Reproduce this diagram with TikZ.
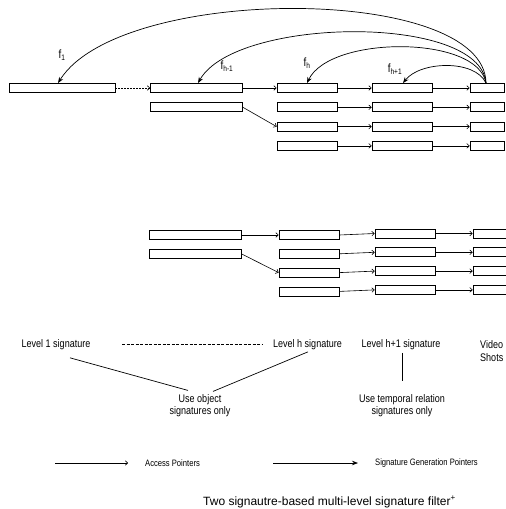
\documentclass[tikz,border=0pt]{standalone}
\usepackage{fontspec}
\setmainfont{Liberation Sans}[FakeStretch=0.82]
\newfontfamily\widesans{Liberation Sans}
\usetikzlibrary{positioning, arrows.meta}

\begin{document}
\begin{tikzpicture}[
    x=1pt, y=-1pt,
    font=\fontsize{11}{12.5}\selectfont,
    % Styles
    sig_box/.style={draw, rectangle, line width=0.8pt, minimum height=9pt, inner sep=0pt},
    long_box/.style={sig_box, minimum width=92pt},
    mid_box/.style={sig_box, minimum width=60pt},
    shot_box/.style={sig_box, minimum width=34pt},
    access_ptr/.style={line width=0.6pt, -{To[length=3pt,width=5pt]}},
    gen_ptr/.style={line width=0.7pt, -{Stealth[length=6pt,width=4.5pt]}},
    f_label/.style={font=\fontsize{12}{12}\selectfont, inner sep=0pt},
    level_text/.style={inner sep=0pt, align=center},
    note_line/.style={line width=0.7pt},
    legend_text/.style={font=\fontsize{9.3}{11}\selectfont, inner sep=0pt, anchor=west}
]
\useasboundingbox (0,0) rectangle (506,509);
\clip (0,0) rectangle (506,509);

% 1. Upper filter: signature levels
\node[sig_box, minimum width=106pt] (sig1) at (62,88) {};
\node[long_box] (sigA1) at (196.5,88) {};
\node[long_box, below=9.5pt of sigA1] (sigA2) {};
\node[mid_box] (sigB1) at (307,88) {};
\node[mid_box] (sigC1) at (402,88) {};
\node[shot_box] (shot1) at (487,88) {};
\foreach \i [count=\j from 2] in {1,2,3} {
    \node[mid_box, below=9.5pt of sigB\i] (sigB\j) {};
    \node[mid_box, below=9.5pt of sigC\i] (sigC\j) {};
    \node[shot_box, below=9.5pt of shot\i] (shot\j) {};
}

% 2. Lower filter: signature levels
\node[long_box] (lowA1) at (195,235) {};
\node[long_box, below=9pt of lowA1] (lowA2) {};
\node[mid_box] (lowB1) at (309,235) {};
\node[mid_box] (lowC1) at (405,233.5) {};
\node[mid_box] (lowD1) at (503,233.5) {};
\foreach \i [count=\j from 2] in {1,2,3} {
    \node[mid_box, below=9pt of lowB\i] (lowB\j) {};
    \node[mid_box, below=9pt of lowC\i] (lowC\j) {};
    \node[mid_box, below=9pt of lowD\i] (lowD\j) {};
}

% Access pointers
\draw[access_ptr, dash pattern=on 2pt off 1pt] (sig1) -- (sigA1);
\draw[access_ptr] (sigA1) -- (sigB1);
\draw[access_ptr] (sigA2.east) -- (sigB3.west);
\draw[access_ptr] (lowA1) -- (lowB1);
\draw[access_ptr] (lowA2.east) -- (lowB3.west);
\foreach \i in {1,...,4} {
    \draw[access_ptr] (sigB\i) -- (sigC\i);
    \draw[access_ptr] (sigC\i) -- (shot\i);
    \draw[access_ptr] (lowB\i.east) -- (lowC\i.west);
    \draw[access_ptr] (lowC\i) -- (lowD\i);
}

% Signature generation pointers
\draw[gen_ptr] ([xshift=-1pt]shot1.north) .. controls +(-1,-99) and +(62,-99) .. ([xshift=-4pt]sig1.north);
\draw[gen_ptr] ([xshift=-1pt]shot1.north) .. controls +(-6,-70) and +(37,-66) .. ([xshift=1.5pt]sigA1.north);
\draw[gen_ptr] ([xshift=-1pt]shot1.north) .. controls +(-8,-48) and +(23,-48) .. (sigB1.north);
\draw[gen_ptr] ([xshift=-1pt]shot1.north) .. controls +(-11,-24) and +(17,-22) .. ([xshift=1pt]sigC1.north);

\node[f_label] (f_one) at (62,55) {f\textsubscript{1}};
\node[f_label] (f_hprev) at (227,66) {f\textsubscript{h-1}};
\node[f_label] (f_h) at (307,63) {f\textsubscript{h}};
\node[f_label] (f_hnext) at (395,69) {f\textsubscript{h+1}};

% 3. Level names
\node[level_text] (lbl_one) at (56,344.5) {Level 1 signature};
\node[level_text] (lbl_h) at (307.5,344.5) {Level h signature};
\node[level_text] (lbl_hnext) at (401,344.5) {Level h+1 signature};
\node[level_text, align=left, anchor=west] (lbl_shots) at (480,351) {Video\\Shots};
\draw[note_line, dash pattern=on 3pt off 1.5pt] ([xshift=31.5pt]lbl_one.east) -- ([xshift=-11pt]lbl_h.west);

\node[level_text] (note_obj) at (200,405.5) {Use object\\signatures only};
\node[level_text] (note_temp) at (402,405.5) {Use temporal relation\\signatures only};
\draw[note_line] ([xshift=14pt,yshift=-8pt]lbl_one.south) -- ([xshift=-12pt,yshift=3.5pt]note_obj.north);
\draw[note_line] ([xshift=13pt,yshift=2.5pt]note_obj.north) -- ([xshift=0.5pt,yshift=-2pt]lbl_h.south);
\draw[note_line] ([xshift=1pt,yshift=-3pt]lbl_hnext.south) -- ([yshift=12.5pt]note_temp.north);

% 4. Legend
\coordinate (acc_start) at (55,463);
\coordinate (acc_end) at (128,463);
\draw[access_ptr] (acc_start) -- (acc_end);
\node[legend_text] (lbl_acc) at (145,463) {Access Pointers};
\coordinate (gen_start) at (273,463);
\coordinate (gen_end) at (358,463);
\draw[gen_ptr] (gen_start) -- (gen_end);
\node[legend_text] (lbl_gen) at (375,463) {Signature Generation Pointers};

\node[inner sep=0pt, anchor=west, font=\widesans\fontsize{12}{14}\selectfont] (caption) at (203,502) {Two signautre-based multi-level signature filter\textsuperscript{+}};

\end{tikzpicture}
\end{document}
